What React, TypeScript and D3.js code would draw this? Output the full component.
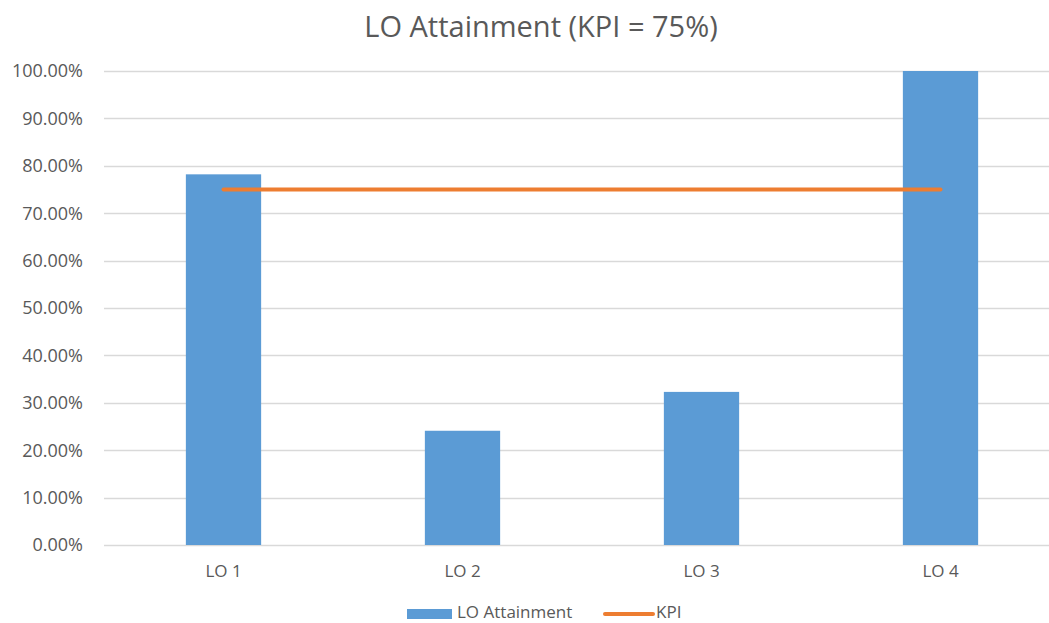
import { useEffect, useRef } from "react";
import * as d3 from "d3";

const categories = ["LO 1", "LO 2", "LO 3", "LO 4"];
const attainment = [0.782, 0.241, 0.323, 1.0];
const kpi = [0.75, 0.75, 0.75, 0.75];
const yTicks = [0, 0.1, 0.2, 0.3, 0.4, 0.5, 0.6, 0.7, 0.8, 0.9, 1.0];

const App = () => {
  const ref = useRef<SVGSVGElement | null>(null);

  useEffect(() => {
    if (!ref.current) return;
    const svg = d3.select(ref.current);
    svg.selectAll("*").remove();

    const width = 1049;
    const height = 623;
    const font = "'Open Sans', 'Noto Sans', sans-serif";
    const textColor = "#595959";

    const x = d3.scaleBand<string>().domain(categories).range([104, 1060]).paddingInner(0.685).paddingOuter(0.3425);
    const y = d3.scaleLinear().domain([0, 1]).range([545, 71]);

    svg.attr("width", width).attr("height", height);

    // Title
    svg
      .append("text")
      .attr("x", 541)
      .attr("y", 37)
      .attr("text-anchor", "middle")
      .attr("font-family", font)
      .attr("font-size", 29)
      .attr("fill", textColor)
      .text("LO Attainment (KPI = 75%)");

    // Grid lines
    svg
      .append("g")
      .selectAll("line")
      .data(yTicks)
      .join("line")
      .attr("x1", 104)
      .attr("x2", width)
      .attr("y1", (d) => Math.round(y(d)) + 0.5)
      .attr("y2", (d) => Math.round(y(d)) + 0.5)
      .attr("stroke", "#d9d9d9")
      .attr("stroke-width", 1.5);

    // Y labels
    svg
      .append("g")
      .selectAll("text")
      .data(yTicks)
      .join("text")
      .attr("x", 83)
      .attr("y", (d) => y(d))
      .attr("dy", "0.35em")
      .attr("text-anchor", "end")
      .attr("font-family", font)
      .attr("font-size", 18)
      .attr("fill", textColor)
      .text((d) => (d * 100).toFixed(2) + "%");

    // Bars
    svg
      .append("g")
      .selectAll("rect")
      .data(attainment)
      .join("rect")
      .attr("x", (_, i) => x(categories[i])!)
      .attr("y", (d) => y(d))
      .attr("width", x.bandwidth())
      .attr("height", (d) => y(0) - y(d))
      .attr("fill", "#5b9bd5");

    // KPI line
    const line = d3
      .line<number>()
      .x((_, i) => x(categories[i])! + x.bandwidth() / 2)
      .y((d) => y(d));
    svg
      .append("path")
      .attr("d", line(kpi)!)
      .attr("fill", "none")
      .attr("stroke", "#ed7d31")
      .attr("stroke-width", 4)
      .attr("stroke-linecap", "round");

    // X labels
    svg
      .append("g")
      .selectAll("text")
      .data(categories)
      .join("text")
      .attr("x", (d) => x(d)! + x.bandwidth() / 2)
      .attr("y", 577)
      .attr("text-anchor", "middle")
      .attr("font-family", font)
      .attr("font-size", 17)
      .attr("fill", textColor)
      .text((d) => d);

    // Legend
    const lg = svg.append("g");
    lg.append("rect").attr("x", 407).attr("y", 609).attr("width", 45).attr("height", 10).attr("fill", "#5b9bd5");
    lg.append("text")
      .attr("x", 457)
      .attr("y", 618)
      .attr("font-family", font)
      .attr("font-size", 17)
      .attr("fill", textColor)
      .text("LO Attainment");
    lg.append("line")
      .attr("x1", 605)
      .attr("x2", 653)
      .attr("y1", 614)
      .attr("y2", 614)
      .attr("stroke", "#ed7d31")
      .attr("stroke-width", 4)
      .attr("stroke-linecap", "round");
    lg.append("text")
      .attr("x", 656)
      .attr("y", 618)
      .attr("font-family", font)
      .attr("font-size", 17)
      .attr("fill", textColor)
      .text("KPI");
  }, []);

  return (
    <div style={{ position: "fixed", top: 0, left: 0, width: 1049, height: 623, overflow: "hidden", background: "#fff" }}>
      <svg ref={ref} style={{ display: "block" }}></svg>
    </div>
  );
};

export default App;
